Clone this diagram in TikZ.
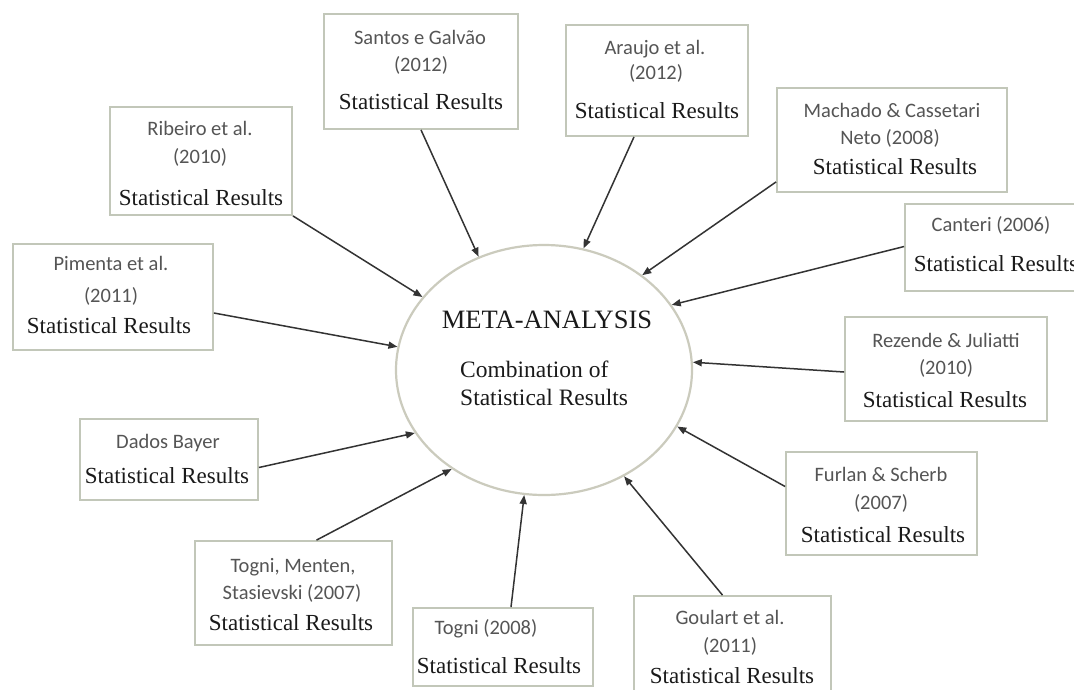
\documentclass[tikz,border=0pt]{standalone}
\usepackage{fontspec}
\setmainfont{Liberation Serif}
\newfontfamily\namefont{Carlito}
\usetikzlibrary{shapes.geometric,arrows.meta,calc}
\definecolor{boxline}{HTML}{C2C7B9}
\definecolor{ellline}{HTML}{CBCBBD}
\definecolor{namegray}{HTML}{555555}
\definecolor{serifblack}{HTML}{1A1A1A}
\definecolor{arrgray}{HTML}{333333}
\tikzset{
  srcbox/.style={draw=boxline, line width=1.8pt, rectangle, inner sep=0pt, fill=white},
  nm/.style={font=\namefont\fontsize{20.5}{24}\selectfont, text=namegray, inner sep=0pt, text height=14pt, text depth=2pt},
  sr/.style={font=\fontsize{23}{27}\selectfont, text=serifblack, inner sep=0pt, text height=16pt, text depth=1pt},
  arr/.style={draw=arrgray, line width=1.5pt, -{Triangle[length=9pt,width=7pt]}}
}
\begin{document}
\begin{tikzpicture}[x=1pt,y=-1pt]
\useasboundingbox (0,0) rectangle (1074,689);
\clip (0,0) rectangle (1074,689);
\fill[white] (0,0) rectangle (1074,689);

% central ellipse
\node[ellipse, draw=ellline, line width=2.2pt, minimum width=296pt, minimum height=250pt, inner sep=0pt] (meta) at (544,370) {};
\node[font=\fontsize{26.5}{30}\selectfont, text=serifblack, inner sep=0pt, text height=18pt, text depth=1pt] (mt) at (547,320) {META-ANALYSIS};
\node[sr, anchor=west, font=\fontsize{23.5}{27}\selectfont] (mc1) at (460,370) {Combination of};
\node[sr, anchor=west, font=\fontsize{23.5}{27}\selectfont] (mc2) at (460,398) {Statistical Results};

% boxes
\node[srcbox, minimum width=194pt, minimum height=115pt] (san) at (421,71.5) {};
\node[nm] (san1) at (420,38) {Santos e Galvão};
\node[nm] (san2) at (421,65) {(2012)};
\node[sr] (san3) at (421,102) {Statistical Results};

\node[srcbox, minimum width=182pt, minimum height=108pt] (rib) at (201,161) {};
\node[nm] (rib1) at (200,129) {Ribeiro et al.};
\node[nm] (rib2) at (200,157) {(2010)};
\node[sr] (rib3) at (201,198) {Statistical Results};

\node[srcbox, minimum width=182pt, minimum height=111pt] (ara) at (657,80.5) {};
\node[nm] (ara1) at (655,48) {Araujo et al.};
\node[nm] (ara2) at (656,73) {(2012)};
\node[sr] (ara3) at (657,111) {Statistical Results};

\node[srcbox, minimum width=230pt, minimum height=104pt] (mac) at (892,140) {};
\node[nm] (mac1) at (892,111) {Machado \& Cassetari};
\node[nm] (mac2) at (890,138) {Neto (2008)};
\node[sr] (mac3) at (895,167) {Statistical Results};

\node[srcbox, minimum width=184pt, minimum height=87pt] (can) at (997,247.5) {};
\node[nm] (can1) at (991,225) {Canteri (2006)};
\node[sr] (can3) at (996,264) {Statistical Results};

\node[srcbox, minimum width=200pt, minimum height=106pt] (pim) at (113,297) {};
\node[nm] (pim1) at (111,264) {Pimenta et al.};
\node[nm] (pim2) at (111,296) {(2011)};
\node[sr] (pim3) at (109,326) {Statistical Results};

\node[srcbox, minimum width=178pt, minimum height=81pt] (dad) at (169,459.5) {};
\node[nm] (dad1) at (168,442) {Dados Bayer};
\node[sr] (dad3) at (167,476) {Statistical Results};

\node[srcbox, minimum width=197pt, minimum height=104pt] (tmen) at (293.5,593) {};
\node[nm] (tmen1) at (293,566) {Togni, Menten,};
\node[nm] (tmen2) at (292,593) {Stasievski (2007)};
\node[sr] (tmen3) at (291,623) {Statistical Results};

\node[srcbox, minimum width=180pt, minimum height=78pt] (tog) at (503,647) {};
\node[nm] (tog1) at (486,628) {Togni (2008)};
\node[sr] (tog3) at (499,666) {Statistical Results};

\node[srcbox, minimum width=197pt, minimum height=104pt] (gou) at (732.5,648) {};
\node[nm] (gou1) at (730,618) {Goulart et al.};
\node[nm] (gou2) at (730,646) {(2011)};
\node[sr] (gou3) at (732,676) {Statistical Results};

\node[srcbox, minimum width=191pt, minimum height=103pt] (fur) at (881.5,503.5) {};
\node[nm] (fur1) at (881,475) {Furlan \& Scherb};
\node[nm] (fur2) at (881,503) {(2007)};
\node[sr] (fur3) at (883,535) {Statistical Results};

\node[srcbox, minimum width=202pt, minimum height=104pt] (rez) at (946,369) {};
\node[nm] (rez1) at (946,341) {Rezende \& Juliatti};
\node[nm] (rez2) at (946,368) {(2010)};
\node[sr] (rez3) at (945,400) {Statistical Results};

% connectors
\draw[arr] (san.south) -- (meta.120);
\draw[arr] (rib.south east) -- (meta.149);
\draw[arr] ($(pim.east)+(0,16)$) -- (meta.171.6);
\draw[arr] ($(dad.east)+(0,8)$) -- (meta.206);
\draw[arr] ($(tmen.north)+(23,0)$) -- (meta.227.4);
\draw[arr] ($(tog.north)+(8,0)$) -- (meta.261.6);
\draw[arr] ($(gou.north)+(-10,0)$) -- (meta.307.4);
\draw[arr] ($(fur.west)+(0,-17)$) -- (meta.337.3);
\draw[arr] ($(rez.west)+(0,3)$) -- (meta.3.4);
\draw[arr] ($(can.west)+(0,-1)$) -- (meta.27.2);
\draw[arr] ($(mac.south west)+(0,-11)$) -- (meta.44.7);
\draw[arr] ($(ara.south)+(-23,0)$) -- (meta.72.6);
\end{tikzpicture}
\end{document}
